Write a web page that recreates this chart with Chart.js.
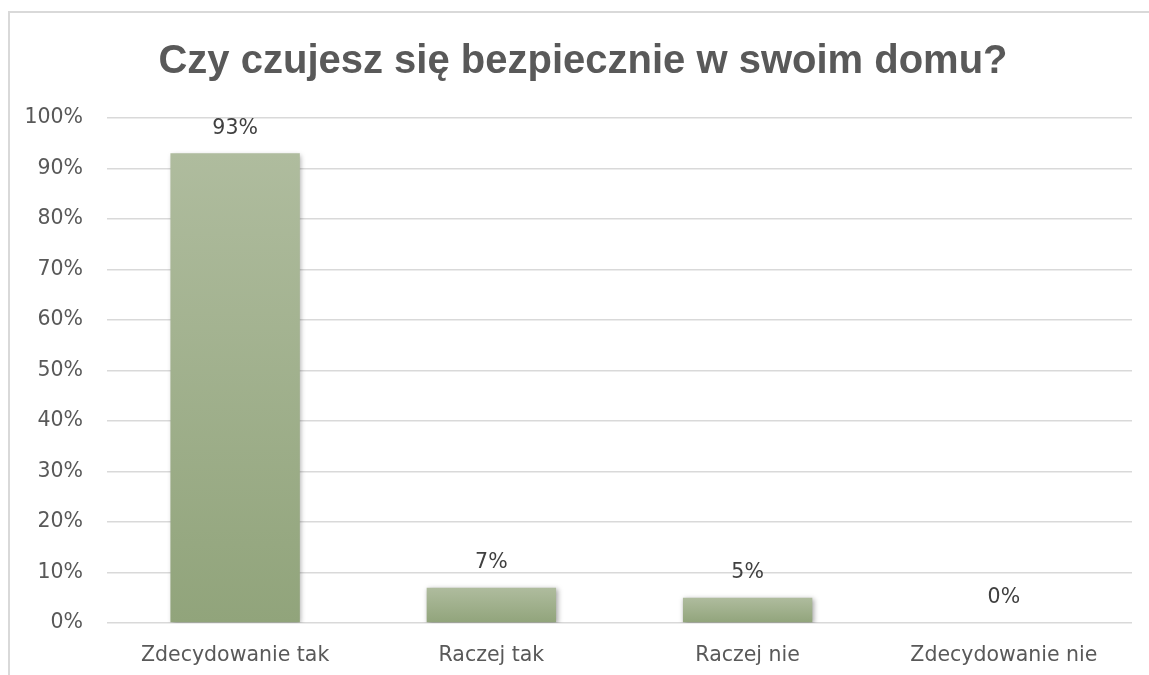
<!DOCTYPE html>
<html>
<head>
<meta charset="utf-8">
<script src="https://cdn.jsdelivr.net/npm/chart.js@4"></script>
<style>
  html, body { margin: 0; padding: 0; background: #fff; }
  #wrap { position: relative; width: 1149px; height: 675px; overflow: hidden; }
  #frame { position: absolute; left: 8px; top: 11px; width: 1200px; height: 700px;
           border-top: 2px solid #d9d9d9; border-left: 2px solid #d9d9d9; }
  #chart { position: absolute; left: 0; top: 0; }
</style>
</head>
<body>
<div id="wrap">
  <div id="frame"></div>
  <canvas id="chart" width="1149" height="675"></canvas>
</div>
<script>
// Data
const categories = ['Zdecydowanie tak', 'Raczej tak', 'Raczej nie', 'Zdecydowanie nie'];
const percents = [93, 7, 5, 0];
const chartTitle = 'Czy czujesz się bezpiecznie w swoim domu?';

const TITLE_FONT = '"Liberation Sans", Arial, sans-serif';
const FONT = '"DejaVu Sans", sans-serif';

// Per-bar vertical gradient (lighter top, darker bottom)
function barGradient(ctx) {
    const chart = ctx.chart;
    if (!chart.chartArea || ctx.dataIndex === undefined) return '#a3b28f';
    const y = chart.scales.y;
    const top = y.getPixelForValue(ctx.raw);
    const base = y.getPixelForValue(0);
    if (base - top < 1) return '#a3b28f';
    const g = chart.ctx.createLinearGradient(0, top, 0, base);
    g.addColorStop(0, '#afbc9e');
    g.addColorStop(1, '#91a47b');
    return g;
}

// Soft shadow under bars + value labels above them
const barExtras = {
    id: 'barExtras',
    afterLayout(chart) {
        // title sits a little right of the plot's centre in the original
        if (chart.titleBlock) {
            chart.titleBlock.left += 12;
        }
    },
    beforeDatasetsDraw(chart) {
        const c = chart.ctx;
        c.save();
        c.shadowColor = 'rgba(0,0,0,0.35)';
        c.shadowBlur = 5;
        c.shadowOffsetX = 1.5;
        c.shadowOffsetY = 1.5;
    },
    afterDatasetsDraw(chart) {
        const c = chart.ctx;
        c.restore();
        c.save();
        c.font = '20.5px ' + FONT;
        c.fillStyle = '#404040';
        c.textAlign = 'center';
        c.textBaseline = 'middle';
        const meta = chart.getDatasetMeta(0);
        meta.data.forEach((bar, i) => {
            c.fillText(percents[i] + '%', bar.x, bar.y - 25);
        });
        c.restore();
    }
};

new Chart(document.getElementById('chart'), {
    type: 'bar',
    data: {
        labels: categories,
        datasets: [{
            data: percents,
            backgroundColor: barGradient,
            borderWidth: 0,
            categoryPercentage: 1,
            barPercentage: 0.505
        }]
    },
    options: {
        responsive: false,
        animation: false,
        layout: { padding: { left: 22, right: 17, top: 0, bottom: 0 } },
        plugins: {
            legend: { display: false },
            tooltip: { enabled: false },
            title: {
                display: true,
                text: chartTitle,
                color: '#595959',
                font: { family: TITLE_FONT, size: 40, weight: 'bold', lineHeight: 1.2 },
                padding: { top: 38, bottom: 32 }
            }
        },
        scales: {
            x: {
                grid: { display: false, drawTicks: false },
                border: { display: false },
                ticks: { color: '#595959', font: { family: FONT, size: 20.5 }, padding: 20 },
                afterFit(scale) { scale.height = 52; }
            },
            y: {
                min: 0,
                max: 100,
                grid: { color: '#d9d9d9', lineWidth: 1.5, drawTicks: false },
                border: { display: false },
                ticks: {
                    stepSize: 10,
                    color: '#595959',
                    font: { family: FONT, size: 20.5 },
                    padding: 24,
                    callback: v => v + '%'
                },
                afterFit(scale) { scale.width = 85; }
            }
        }
    },
    plugins: [barExtras]
});
</script>
</body>
</html>
